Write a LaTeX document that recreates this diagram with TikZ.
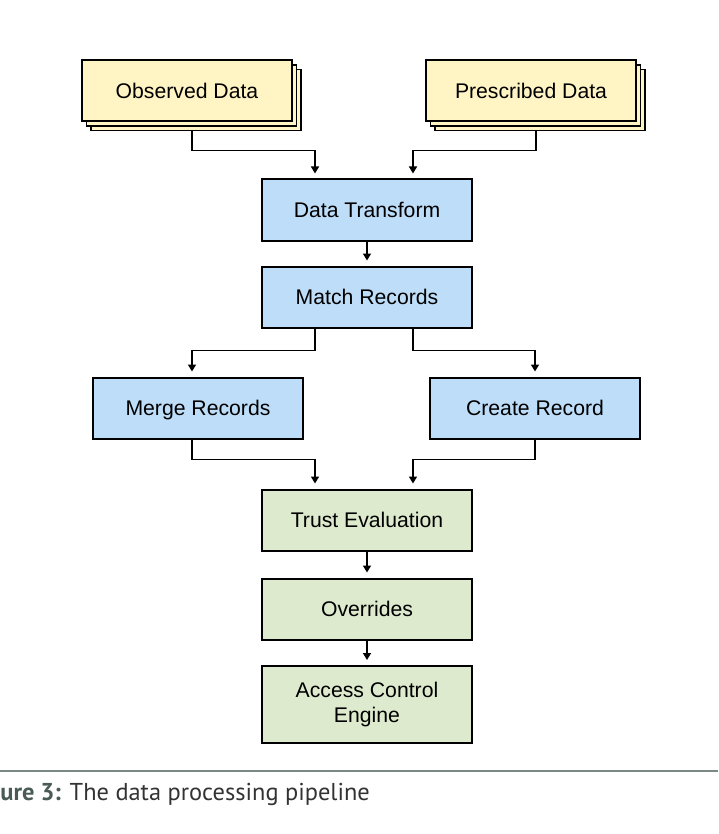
\documentclass[tikz,border=0pt]{standalone}
\usepackage{fontspec}
\setmainfont{Liberation Sans}
\newfontfamily\captionfont{PT Sans}
\usetikzlibrary{arrows.meta,shadows,calc}
\definecolor{datayellow}{HTML}{FFF5C4}
\definecolor{stageblue}{HTML}{BDDDF8}
\definecolor{stagegreen}{HTML}{DDEACD}
\definecolor{rulegray}{HTML}{7B8983}
\definecolor{captiongray}{HTML}{4A5B55}
\begin{document}
\begin{tikzpicture}[x=0.5pt, y=-0.5pt,
    box/.style={draw=black, line width=1pt, minimum width=105pt, minimum height=30.5pt,
        inner sep=0pt, align=center, font=\fontsize{10.6}{12.3}\selectfont},
    oneline/.style={text height=7.6pt, text depth=0pt},
    source/.style={box, oneline, fill=datayellow,
        double copy shadow={shadow xshift=2.25pt, shadow yshift=-2.25pt, fill=datayellow, draw=black, line width=0.8pt}},
    stage/.style={box, oneline, fill=stageblue},
    check/.style={box, fill=stagegreen},
    flow/.style={-{Triangle[length=3.5pt, width=4pt]}, line width=0.75pt, shorten >=2.5pt}]
    \useasboundingbox (0,0) rectangle (718,834);

    % Sorgenti
    \node[source] (observed) at (187,91) {Observed Data};
    \node[source] (prescribed) at (531,91) {Prescribed Data};

    % Trasformazione e match
    \node[stage] (transform) at (367,210) {Data Transform};
    \node[stage] (match) at (367,297) {Match Records};
    \node[stage] (merge) at (198,408) {Merge Records};
    \node[stage] (create) at (535,408) {Create Record};

    % Valutazione
    \node[check, oneline] (trust) at (367,520) {Trust Evaluation};
    \node[check, oneline] (overrides) at (367,609) {Overrides};
    \node[check, minimum height=38.5pt, yshift=-1pt] (engine) at (367,702.5) {Access Control\\Engine};

    % Frecce
    \draw[flow] ($(observed.south)+(5,9)$) -- ++(0,19) -| ($(transform.north)+(-52,0)$);
    \draw[flow] ($(prescribed.south)+(5,9)$) -- ++(0,19) -| ($(transform.north)+(46,0)$);
    \draw[flow] (transform) -- (match);
    \draw[flow] ($(match.south)+(-52,0)$) -- ++(0,22) -| ($(merge.north)+(-6,0)$);
    \draw[flow] ($(match.south)+(46,0)$) -- ++(0,22) -| (create.north);
    \draw[flow] ($(merge.south)+(-6,0)$) -- ++(0,20) -| ($(trust.north)+(-52,0)$);
    \draw[flow] (create.south) -- ++(0,20) -| ($(trust.north)+(46,0)$);
    \draw[flow] (trust) -- (overrides);
    \draw[flow] (overrides) -- (engine);

    % Didascalia
    \draw[rulegray, line width=1pt] (0,771) -- (718,771);
    \node[anchor=base west, inner sep=0pt, text=black!80, font=\captionfont\fontsize{12.2}{14}\selectfont] (caption) at (0,800)
        {\textcolor{captiongray}{\bfseries ure 3:} The data processing pipeline};
\end{tikzpicture}
\end{document}
